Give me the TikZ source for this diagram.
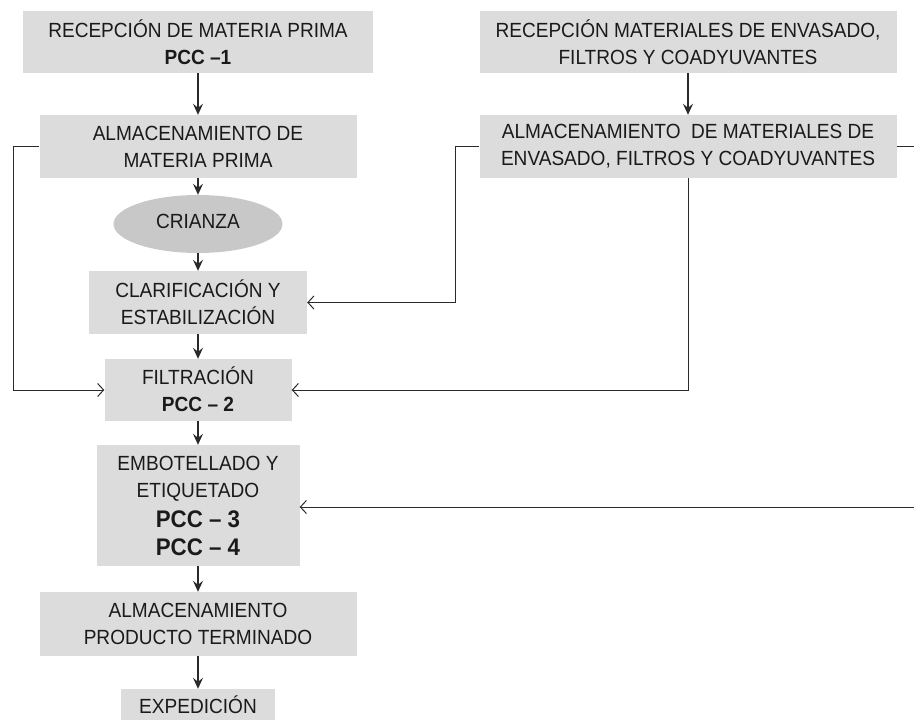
\documentclass[tikz,border=0pt]{standalone}
\usepackage{fontspec}
\setmainfont{Liberation Sans}[FakeStretch=0.93]
\usetikzlibrary{arrows.meta,shapes.geometric}
\definecolor{boxgray}{HTML}{DCDCDC}
\definecolor{ellgray}{HTML}{C8C8C8}
\definecolor{linec}{HTML}{2A2A2A}
\definecolor{txt}{HTML}{1A1A1A}
\begin{document}
\begin{tikzpicture}[x=1pt,y=-1pt,
  proc/.style={rectangle, fill=boxgray, inner sep=0pt, align=center, text=txt,
    font=\fontsize{20.5}{27}\selectfont},
  ell/.style={ellipse, fill=ellgray, inner sep=0pt, text=txt,
    font=\fontsize{20.5}{27}\selectfont},
  down/.style={draw=linec, line width=1.1pt, -{Stealth[length=11pt,width=10pt,inset=4pt]}},
  side/.style={draw=linec, line width=1pt, -{Straight Barb[length=6pt,width=13pt]}},
  link/.style={draw=linec, line width=1pt}]
\useasboundingbox (0,0) rectangle (914,720);
\clip (0,0) rectangle (914,720);
\fill[white] (0,0) rectangle (914,720);

% left column
\node[proc, minimum width=350pt, minimum height=62pt] (r1) at (198,42)
  {RECEPCIÓN DE MATERIA PRIMA\\\textbf{PCC –1}};
\node[proc, minimum width=317pt, minimum height=63pt] (a1) at (198,146.5)
  {ALMACENAMIENTO DE\\MATERIA PRIMA};
\node[ell, minimum width=169pt, minimum height=58pt] (cri) at (198,224)
  {\raisebox{5pt}{CRIANZA}};
\node[proc, minimum width=218pt, minimum height=63pt] (cla) at (198,302.5)
  {CLARIFICACIÓN Y\\ESTABILIZACIÓN};
\node[proc, minimum width=187pt, minimum height=62pt] (fil) at (198,390)
  {\raisebox{2pt}{FILTRACIÓN}\\\raisebox{2pt}{\textbf{PCC – 2}}};
\node[proc, minimum width=203pt, minimum height=121pt] (emb) at (198,505.5)
  {\raisebox{3pt}{EMBOTELLADO Y}\\\raisebox{3pt}{ETIQUETADO}\\
   {\fontsize{24}{27}\selectfont\textbf{PCC – 3}}\\[1pt]
   {\fontsize{24}{27}\selectfont\textbf{PCC – 4}}};
\node[proc, minimum width=317pt, minimum height=64pt] (apt) at (198,624)
  {ALMACENAMIENTO\\PRODUCTO TERMINADO};
\node[proc, minimum width=154pt, minimum height=31pt] (exp) at (198,704.5)
  {EXPEDICIÓN};

% right column
\node[proc, minimum width=417pt, minimum height=62pt] (r2) at (688,42)
  {RECEPCIÓN MATERIALES DE ENVASADO,\\FILTROS Y COADYUVANTES};
\node[proc, minimum width=417pt, minimum height=63pt] (a2) at (688,146.5)
  {ALMACENAMIENTO~ DE MATERIALES DE\\ENVASADO, FILTROS Y COADYUVANTES};

% main flow
\draw[down] (r1) -- (a1);
\draw[down] (a1) -- (cri);
\draw[down] (cri) -- (cla);
\draw[down] (cla) -- (fil);
\draw[down] (fil) -- (emb);
\draw[down] (emb) -- (apt);
\draw[down] (apt) -- (exp);
\draw[down] (r2) -- (a2);

% side connectors
\coordinate (lbend) at (13,146.5);
\draw[side] (a1.west) -- (lbend) |- (fil.west);
\coordinate (mbend) at (455,146.5);
\draw[side] (a2.west) -- (mbend) |- (cla.east);
\draw[side] (a2.south) |- (fil.east);
\coordinate (redge) at (914,146.5);
\draw[link] (a2.east) -- (redge);
\coordinate (eedge) at (914,507);
\draw[side] (eedge) -- (emb.east |- eedge);
\end{tikzpicture}
\end{document}
